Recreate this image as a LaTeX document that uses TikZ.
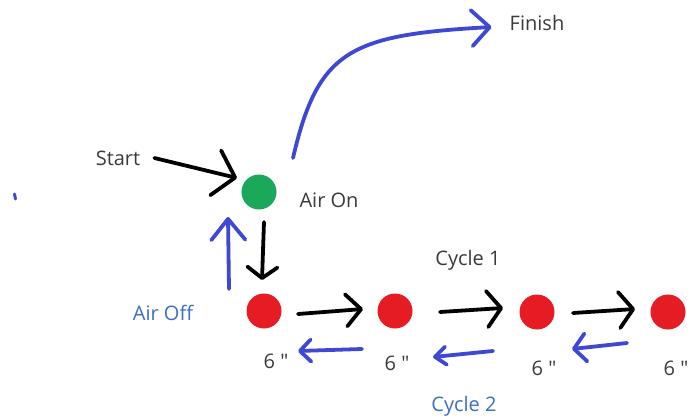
\documentclass[tikz,border=0pt]{standalone}
\usepackage{fontspec}
\setmainfont{Open Sans}[Ligatures=TeXOff]
\usetikzlibrary{arrows.meta,calc}
\definecolor{ink}{HTML}{3A3A3A}
\definecolor{pen}{HTML}{3E48D2}
\definecolor{labelblue}{HTML}{3A6EC8}
\definecolor{ongreen}{HTML}{1AA85A}
\definecolor{offred}{HTML}{E51C24}
\tikzset{
  dot/.style={circle,minimum size=35pt,inner sep=0pt},
  lbl/.style={font=\fontsize{20}{24}\selectfont,text=ink,inner sep=0pt},
  bluelbl/.style={lbl,text=labelblue},
  blackpen/.style={line width=3.8pt,line cap=round,line join=round,black},
  bluepen/.style={line width=3.8pt,line cap=round,line join=round,pen},
}
\begin{document}
\begin{tikzpicture}[x=1pt,y=-1pt]
\useasboundingbox (0,0) rectangle (691,420);

% states
\node[dot,fill=ongreen] (on) at (259,192) {};
\node[dot,fill=offred] (r1) at (264,311) {};
\node[dot,fill=offred] (r2) at (395,311) {};
\node[dot,fill=offred] (r3) at (537,312) {};
\node[dot,fill=offred] (r4) at (668,312) {};

% labels
\node[lbl] (start) at (118,158) {Start};
\node[lbl] (airon) at (329,200) {Air On};
\node[lbl] (finish) at (537,23) {Finish};
\node[bluelbl] (airoff) at (163,313) {Air Off};
\node[lbl] (cyc1) at (468,260) {Cycle 1};
\node[bluelbl] (cyc2) at (464,406) {Cycle 2};
\node[lbl] (d1) at (276,361) {6 "};
\node[lbl] (d2) at (397,363) {6 "};
\node[lbl] (d3) at (544,368) {6 "};
\node[lbl] (d4) at (676,368) {6 "};

% start into the green state
\draw[blackpen,-{Straight Barb[length=20pt,width=46pt,round]}]
  ($(start.east)+(14,0)$) -- ($(on)+(-22,-14)$);
% green state down to first red
\draw[blackpen,-{Straight Barb[length=11pt,width=30pt,round]}]
  ($(on)+(5,30)$) -- ($(r1)+(-2,-31)$);
% return path to the green state
\draw[bluepen,-{Straight Barb[length=21pt,width=34pt,round]}]
  ($(r1)+(-35,-22)$) -- ($(on)+(-31,25)$);
% exit curve
\draw[bluepen,-{Straight Barb[length=18pt,width=36pt,round]}]
  ($(on)+(34,-34)$) .. controls (318,50) and (350,35) .. ($(finish.west)+(-18,4)$);

% cycle 1 forward moves
\draw[blackpen,-{Straight Barb[length=15pt,width=32pt,round]}]
  ($(r1)+(34,3)$) -- ($(r2)+(-32,-2)$);
\draw[blackpen,-{Straight Barb[length=14pt,width=36pt,round]}]
  ($(r2)+(45,1)$) -- ($(r3)+(-34,-4)$);
\draw[blackpen,-{Straight Barb[length=14pt,width=36pt,round]}]
  ($(r3)+(36,1)$) -- ($(r4)+(-33,-3)$);

% cycle 2 return moves
\draw[bluepen,-{Straight Barb[length=11pt,width=22pt,round]}]
  ($(r2)+(-33,38)$) -- ($(r1)+(34,40)$);
\draw[bluepen,-{Straight Barb[length=11pt,width=18pt,round]}]
  ($(r3)+(-44,39)$) -- ($(r2)+(38,46)$);
\draw[bluepen,-{Straight Barb[length=12pt,width=28pt,round]}]
  ($(r4)+(-41,31)$) -- ($(r3)+(35,37)$);

% stray pen mark
\draw[bluepen,line width=3pt] (14.5,194) -- (15.5,199);
\end{tikzpicture}
\end{document}
